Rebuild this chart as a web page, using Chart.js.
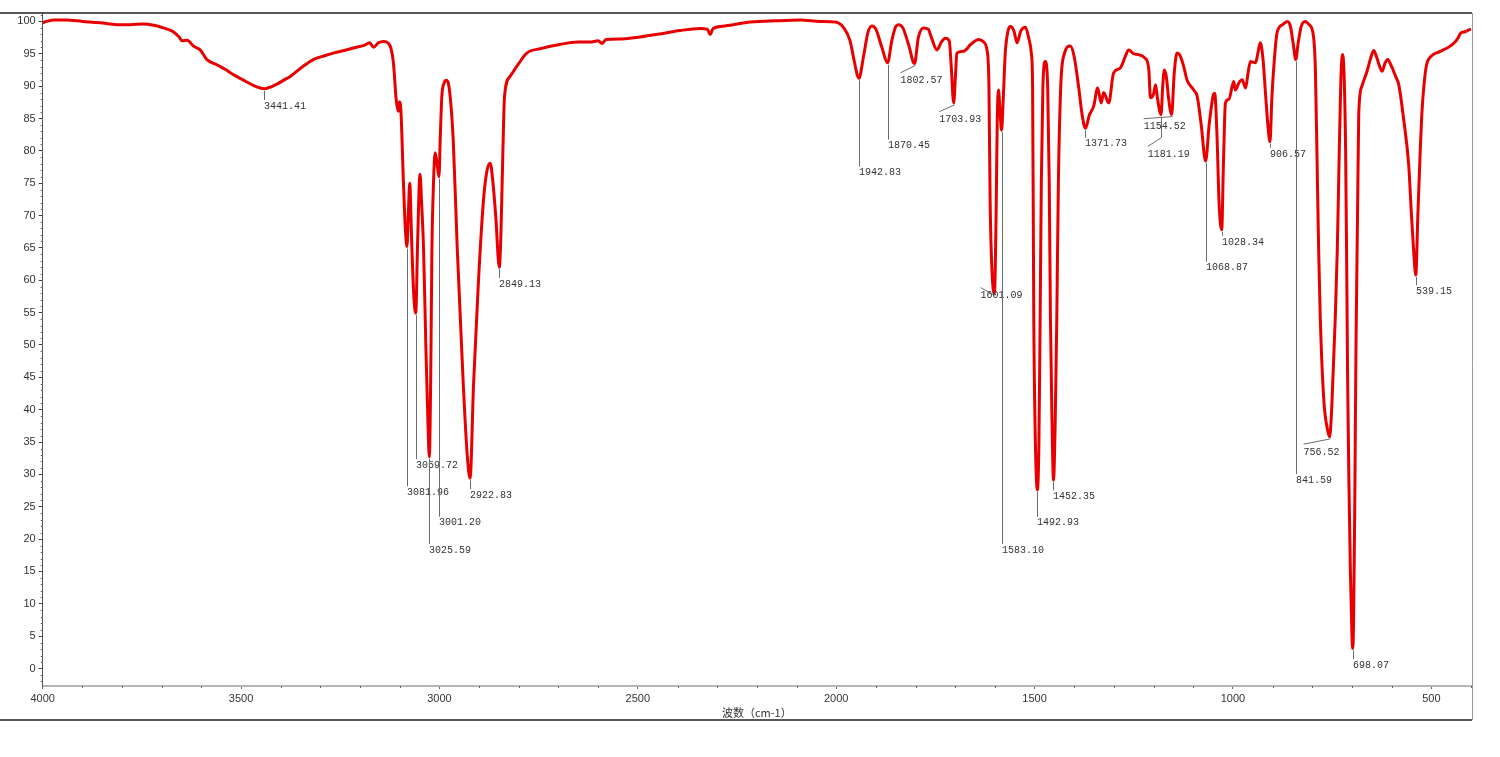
<!DOCTYPE html>
<html>
<head>
<meta charset="utf-8">
<title>IR spectrum</title>
<script src="https://cdn.jsdelivr.net/npm/chart.js@4/dist/chart.umd.min.js"></script>
<style>
  html, body { margin: 0; padding: 0; background: #fff; }
  #wrap { width: 1500px; height: 757px; }
</style>
</head>
<body>
<div id="wrap"><canvas id="irChart" width="1500" height="757"></canvas></div>
<script>
// spectrum: wavenumber (cm-1) and transmittance (%)
const wavenumbers = [
  4000, 3990, 3970, 3940, 3900, 3855, 3813, 3780, 3747, 3720, 3696, 3671, 3655, 3649, 3636, 3620,
  3603, 3586, 3561, 3540, 3520, 3490, 3469, 3441.41, 3410, 3390, 3376, 3345, 3318, 3290, 3268, 3240,
  3217, 3190, 3176, 3166, 3154, 3140, 3130, 3122, 3116, 3109, 3104, 3101, 3097, 3091, 3086, 3081.96,
  3078, 3075, 3070, 3065, 3059.72, 3055, 3049, 3045, 3040, 3034, 3029, 3025.59, 3022, 3019, 3015, 3011,
  3006, 3001.2, 2998, 2994, 2988, 2983, 2975, 2965, 2955, 2940, 2930, 2922.83, 2914, 2902, 2889, 2880,
  2872, 2865, 2858, 2849.13, 2845, 2840, 2836, 2822, 2800, 2780, 2745, 2700, 2650, 2620, 2600, 2590,
  2580, 2540, 2494, 2450, 2393, 2343, 2325, 2318, 2310, 2280, 2216, 2150, 2090, 2040, 2002, 1981,
  1965, 1955, 1942.83, 1930, 1920, 1910, 1900, 1885, 1870.45, 1860, 1850, 1843, 1832, 1818, 1802.57, 1793,
  1780, 1768, 1760, 1746, 1735, 1725, 1715, 1710, 1703.93, 1699, 1696, 1679, 1660, 1641, 1628, 1620,
  1615, 1612, 1607, 1601.09, 1597, 1594, 1591, 1587, 1583.1, 1579, 1574, 1567, 1561, 1552, 1544, 1535,
  1523, 1515, 1508, 1505, 1502, 1498, 1492.93, 1489, 1486, 1483, 1479, 1473, 1467, 1463, 1460, 1456,
  1452.35, 1448, 1444, 1440, 1434, 1425, 1410, 1400, 1389, 1380, 1371.73, 1362, 1351, 1341, 1332, 1326,
  1313, 1301, 1284, 1270, 1263, 1250, 1242, 1221, 1212, 1208, 1200, 1195, 1190, 1181.19, 1177, 1173,
  1168, 1162, 1154.52, 1148, 1141, 1134, 1124, 1116, 1099, 1090, 1080, 1068.87, 1060, 1050, 1046, 1040,
  1035, 1028.34, 1024, 1019, 1010, 998, 994, 985, 977, 968, 962, 956, 943, 936, 931, 924,
  918, 912, 906.57, 902, 897, 889, 875, 863, 855, 848, 841.59, 836, 828, 818, 808, 797,
  792, 787, 784, 780, 771, 762, 756.52, 752, 748, 742, 737, 732, 728, 724, 720, 716,
  713, 711, 708, 704, 700, 698.07, 696, 693, 690, 686, 683, 675, 662, 652, 645, 638,
  630, 624, 617, 610, 600, 590, 582, 570, 557, 550, 545, 539.15, 534, 528, 524, 518,
  512, 505, 495, 480, 470, 460, 450, 439, 432, 426, 415, 405, 400
];
const transmittance = [
  99.8, 100.0, 100.2, 100.2, 100.0, 99.8, 99.5, 99.5, 99.6, 99.4, 99.0, 98.4, 97.5, 97.0, 97.1, 96.2,
  95.6, 94.1, 93.3, 92.6, 91.8, 90.8, 90.1, 89.6, 90.3, 91.0, 91.5, 93.0, 94.1, 94.7, 95.1, 95.5,
  95.9, 96.3, 96.7, 96.0, 96.7, 96.9, 96.7, 95.8, 93.6, 87.9, 86.1, 87.6, 86.0, 75.5, 68.0, 65.2,
  71.0, 75.0, 66.0, 58.0, 54.9, 66.0, 76.4, 72.0, 64.7, 49.2, 38.0, 32.7, 45.0, 64.7, 75.0, 79.7,
  78.0, 76.0, 82.0, 88.4, 90.5, 90.9, 89.5, 81.3, 64.7, 44.0, 33.0, 29.4, 44.0, 59.5, 72.4, 77.0,
  78.1, 75.0, 69.8, 62.0, 67.3, 80.2, 88.4, 91.5, 93.5, 95.1, 95.8, 96.4, 96.8, 96.8, 97.0, 96.6,
  97.2, 97.3, 97.6, 98.0, 98.6, 98.9, 98.8, 98.0, 98.9, 99.3, 99.9, 100.1, 100.2, 100.0, 99.9, 99.0,
  97.0, 94.0, 91.2, 95.0, 98.3, 99.3, 98.8, 96.0, 93.6, 97.0, 99.2, 99.5, 99.0, 96.5, 93.5, 97.5,
  99.0, 98.8, 97.5, 95.6, 96.8, 97.4, 97.0, 93.0, 87.4, 92.0, 95.1, 95.4, 96.5, 97.2, 96.8, 95.6,
  90.0, 72.0, 61.0, 58.0, 70.0, 85.0, 89.4, 86.0, 83.2, 88.0, 95.0, 98.5, 99.2, 98.5, 96.7, 98.5,
  99.1, 97.5, 95.0, 90.0, 54.0, 35.0, 27.6, 35.0, 54.0, 75.0, 90.0, 93.8, 90.0, 75.0, 54.0, 38.0,
  29.1, 38.0, 54.0, 75.0, 90.0, 95.0, 96.2, 94.5, 89.9, 85.5, 83.5, 85.5, 86.9, 89.7, 87.4, 89.0,
  87.4, 92.0, 92.8, 94.8, 95.6, 95.0, 94.9, 94.3, 92.5, 88.2, 88.8, 90.2, 88.0, 85.6, 90.0, 92.5,
  91.5, 88.0, 85.6, 92.0, 95.1, 94.8, 93.0, 91.0, 89.4, 88.4, 84.0, 78.4, 84.0, 88.5, 88.9, 82.0,
  72.0, 67.8, 78.0, 87.4, 88.0, 90.7, 89.4, 90.5, 91.0, 89.7, 92.0, 93.8, 93.6, 95.5, 96.7, 94.0,
  88.9, 84.0, 81.4, 88.0, 93.0, 98.2, 99.5, 100.0, 99.2, 96.5, 94.1, 96.5, 99.2, 100.0, 99.5, 97.7,
  92.0, 75.0, 64.7, 54.4, 41.5, 37.0, 35.8, 39.0, 45.0, 54.4, 64.7, 80.0, 91.0, 94.9, 92.0, 80.0,
  60.0, 45.0, 30.0, 15.0, 5.0, 3.1, 7.0, 25.0, 49.0, 70.0, 85.6, 90.0, 92.3, 94.5, 95.5, 94.5,
  93.0, 92.3, 93.5, 94.1, 93.0, 91.5, 90.2, 85.0, 77.8, 70.0, 65.0, 60.8, 70.0, 80.0, 85.6, 90.5,
  93.3, 94.3, 94.9, 95.3, 95.6, 95.9, 96.3, 96.9, 97.5, 98.2, 98.4, 98.7, 98.8
];

const xTickValues = [4000, 3500, 3000, 2500, 2000, 1500, 1000, 500];
const yTickValues = [0, 5, 10, 15, 20, 25, 30, 35, 40, 45, 50, 55, 60, 65, 70, 75, 80, 85, 90, 95, 100];

// peak picks: label, peak wavenumber, transmittance where the label sits, wavenumber where the label starts
const peakLabels = ['3441.41', '3081.96', '3059.72', '3025.59', '3001.20', '2922.83', '2849.13', '1942.83',
  '1870.45', '1802.57', '1703.93', '1601.09', '1583.10', '1492.93', '1452.35', '1371.73', '1181.19',
  '1154.52', '1068.87', '1028.34', '906.57', '841.59', '756.52', '698.07', '539.15'];
const peakWavenumbers = [3441.41, 3081.96, 3059.72, 3025.59, 3001.2, 2922.83, 2849.13, 1942.83,
  1870.45, 1802.57, 1703.93, 1601.09, 1583.1, 1492.93, 1452.35, 1371.73, 1181.19,
  1154.52, 1068.87, 1028.34, 906.57, 841.59, 756.52, 698.07, 539.15];
const peakLabelT = [87.7, 28.0, 32.2, 19.1, 23.3, 27.6, 60.2, 77.4,
  81.6, 91.6, 85.6, 58.4, 19.1, 23.3, 27.4, 81.9, 80.2,
  84.5, 62.7, 66.7, 80.3, 29.9, 34.2, 1.3, 59.1];
const peakTextWn = [3441.41, 3081.96, 3059.72, 3025.59, 3001.2, 2922.83, 2849.13, 1942.83,
  1870.45, 1838, 1740, 1636, 1583.1, 1492.93, 1452.35, 1371.73, 1215,
  1225, 1068.87, 1028.34, 906.57, 841.59, 822, 698.07, 539.15];

const points = wavenumbers.map((w, i) => ({ x: w, y: transmittance[i] }));

// small ticks between the labelled ones, plus the outer frame
const minorTicks = {
  id: 'minorTicks',
  afterDraw(chart) {
    const { ctx, scales: { x, y }, chartArea } = chart;
    ctx.save();
    ctx.strokeStyle = '#666';
    ctx.lineWidth = 1;
    ctx.beginPath();
    for (let w = 400; w <= 4000; w += 100) {
      if (w % 500 === 0) continue;
      const px = Math.round(x.getPixelForValue(w)) + 0.5;
      ctx.moveTo(px, chartArea.bottom);
      ctx.lineTo(px, chartArea.bottom + 2);
    }
    for (let t = -2; t <= 101; t++) {
      if (t % 5 === 0) continue;
      const py = Math.round(y.getPixelForValue(t)) + 0.5;
      ctx.moveTo(chartArea.left - 2, py);
      ctx.lineTo(chartArea.left, py);
    }
    ctx.stroke();

    // frame
    ctx.strokeStyle = '#222';
    ctx.lineWidth = 1.5;
    ctx.beginPath();
    ctx.moveTo(0, 13); ctx.lineTo(1472, 13);
    ctx.moveTo(0, 720); ctx.lineTo(1472, 720);
    ctx.stroke();
    ctx.strokeStyle = '#999';
    ctx.lineWidth = 1;
    ctx.beginPath();
    ctx.moveTo(1472.5, 13); ctx.lineTo(1472.5, 720);
    ctx.stroke();
    ctx.restore();
  }
};

const peakMarks = {
  id: 'peakMarks',
  afterDatasetsDraw(chart) {
    const { ctx, scales: { x, y } } = chart;
    ctx.save();
    ctx.strokeStyle = '#6b6b6b';
    ctx.lineWidth = 1;
    ctx.fillStyle = '#333';
    ctx.font = '10px "Liberation Mono", "DejaVu Sans Mono", monospace';
    ctx.textBaseline = 'top';
    ctx.textAlign = 'left';
    peakWavenumbers.forEach((wn, i) => {
      const idx = wavenumbers.indexOf(wn);
      const px = Math.round(x.getPixelForValue(wn)) + 0.5;
      const py = y.getPixelForValue(transmittance[idx]) + 2;
      const ty = y.getPixelForValue(peakLabelT[i]);
      const tx = x.getPixelForValue(peakTextWn[i]);
      ctx.beginPath();
      ctx.moveTo(px, py);
      if (peakTextWn[i] === wn) {
        ctx.lineTo(px, ty - 1);
      } else {
        ctx.lineTo(px, Math.max(py, ty - 12));
        ctx.lineTo(tx, ty - 3);
      }
      ctx.stroke();
      ctx.fillText(peakLabels[i], peakTextWn[i] === wn ? px - 0.5 : tx, ty);
    });
    ctx.restore();
  }
};

const tickFont = { family: '"Liberation Sans", Arial, sans-serif', size: 11 };

new Chart(document.getElementById('irChart').getContext('2d'), {
  type: 'line',
  data: {
    datasets: [{
      data: points,
      borderColor: 'rgb(232, 0, 0)',
      borderWidth: 3,
      pointRadius: 0,
      fill: false,
      cubicInterpolationMode: 'monotone',
      borderJoinStyle: 'round'
    }]
  },
  options: {
    responsive: false,
    animation: false,
    layout: { padding: { left: 0, right: 29, top: 13, bottom: 37 } },
    plugins: {
      legend: { display: false },
      tooltip: { enabled: false }
    },
    scales: {
      x: {
        type: 'linear',
        reverse: true,
        min: 400,
        max: 4000,
        afterBuildTicks: s => { s.ticks = xTickValues.map(v => ({ value: v })); },
        afterFit: s => { s.height = 34; },
        ticks: {
          font: tickFont,
          color: '#333',
          padding: 3,
          maxRotation: 0,
          autoSkip: false,
          callback: v => String(v)
        },
        grid: { drawOnChartArea: false, tickLength: 3, color: '#666' },
        border: { color: '#b5b5b5', width: 2 },
        title: {
          display: true,
          text: '波数（cm-1）',
          font: { family: '"Noto Sans CJK SC", sans-serif', size: 11 },
          color: '#333',
          padding: { top: 0, bottom: 1 }
        }
      },
      y: {
        min: -2.7,
        max: 101.3,
        afterBuildTicks: s => { s.ticks = yTickValues.map(v => ({ value: v })); },
        afterFit: s => { s.width = 42.7; },
        ticks: {
          font: tickFont,
          color: '#333',
          padding: 3,
          autoSkip: false,
          callback: v => String(v)
        },
        grid: { drawOnChartArea: false, tickLength: 4, color: '#444' },
        border: { color: '#555', width: 1 }
      }
    }
  },
  plugins: [minorTicks, peakMarks]
});
</script>
</body>
</html>
